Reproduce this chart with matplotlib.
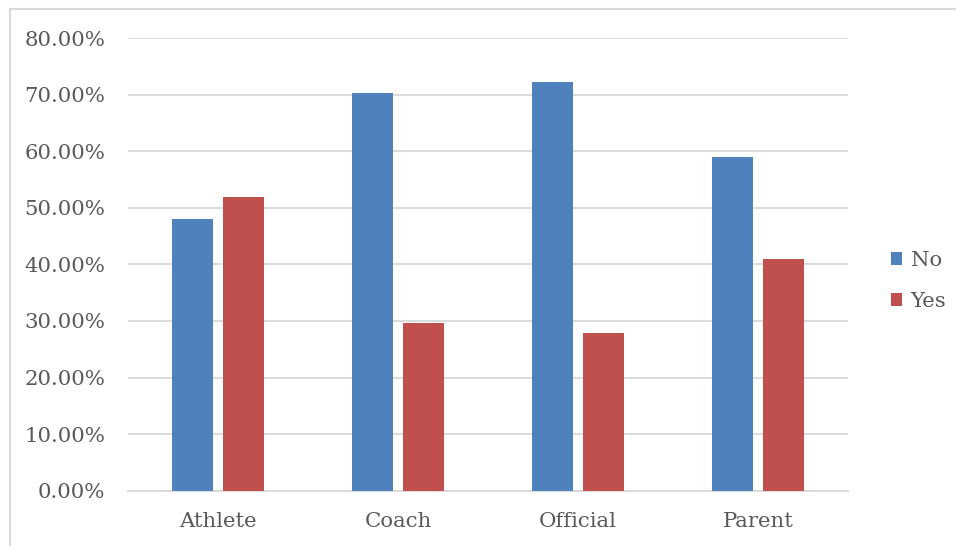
import matplotlib
matplotlib.use("Agg")
import matplotlib.pyplot as plt
from matplotlib.patches import Rectangle
from matplotlib.ticker import FuncFormatter
import numpy as np

categories = ["Athlete", "Coach", "Official", "Parent"]
no_vals = [48.1, 70.3, 72.2, 59.0]
yes_vals = [51.9, 29.7, 27.8, 41.0]
series_names = ["No", "Yes"]
yticks = [0, 10, 20, 30, 40, 50, 60, 70, 80]

W, H = 956, 546
fig = plt.figure(figsize=(W/100, H/100), dpi=100)
plt.rcParams['font.family'] = ['DejaVu Serif']
txt = '#595959'
fs = 15.3

# chart border
fig.patches.append(Rectangle((10/W, -0.05), 1.2, (H-9)/H + 0.05, transform=fig.transFigure,
                             fill=False, edgecolor='#d9d9d9', linewidth=1.5))

ax = fig.add_axes([128/W, 1-490.7/H, 720/W, (490.7-38)/H])
x = np.arange(len(categories))
bw = 41/180
gap = 10/180
ax.bar(x - (bw+gap)/2, no_vals, bw, color='#4f81bd', label=series_names[0], zorder=3)
ax.bar(x + (bw+gap)/2, yes_vals, bw, color='#c0504d', label=series_names[1], zorder=3)

ax.set_xlim(-0.5, len(categories)-0.5)
ax.set_ylim(0, 80)
ax.set_yticks(yticks)
ax.yaxis.set_major_formatter(FuncFormatter(lambda v, p: f"{v:.2f}%"))
ax.set_xticks(x)
ax.set_xticklabels(categories)
ax.grid(axis='y', color='#d9d9d9', linewidth=1.3, zorder=0)
for s in ['top', 'right', 'left']:
    ax.spines[s].set_visible(False)
ax.spines['bottom'].set_color('#d9d9d9')
ax.spines['bottom'].set_linewidth(1.3)
ax.tick_params(axis='both', length=0, labelsize=fs, colors=txt)
ax.tick_params(axis='y', pad=16.5)
ax.tick_params(axis='x', pad=15)

leg = fig.legend(loc='center left', bbox_to_anchor=(872/W, 1-281/H), frameon=False,
                 fontsize=fs, handlelength=0.52, handleheight=0.52, handletextpad=0.4,
                 labelspacing=1.05)
for t in leg.get_texts():
    t.set_color(txt)

fig.savefig("out.png", dpi=100)
